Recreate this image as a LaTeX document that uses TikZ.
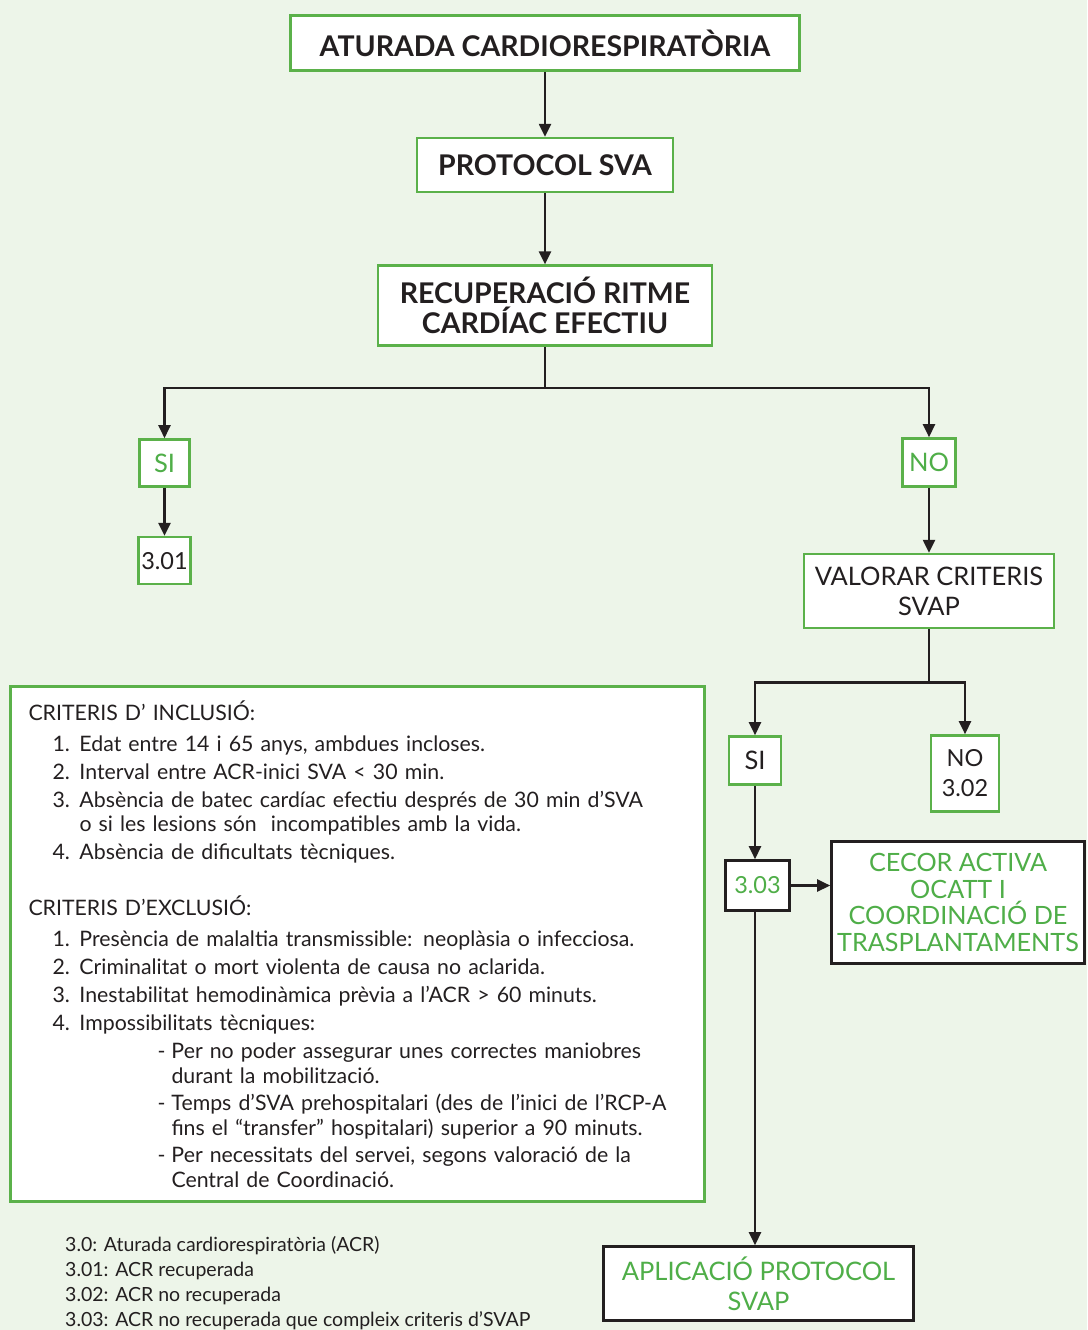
\documentclass[tikz,border=0pt]{standalone}
\usepackage{fontspec}
\setmainfont{Lato}
\usepackage{xcolor}
\usepackage{tikz}
\usetikzlibrary{arrows.meta,positioning}

\definecolor{bggreen}{HTML}{EDF5E9}
\definecolor{framegreen}{HTML}{5BB14A}
\definecolor{textgreen}{HTML}{4FAE48}
\definecolor{inkblack}{HTML}{231F20}

\begin{document}
\begin{tikzpicture}[
  x=1pt, y=1pt,
  >={Triangle[length=13pt,width=12pt]},
  box/.style={draw=framegreen, fill=white, line width=2.6pt, inner sep=0pt,
    align=center, text=inkblack},
  titlebox/.style={box, font=\fontsize{28.5}{30}\selectfont\bfseries},
  plainbox/.style={box, font=\fontsize{25.5}{30}\selectfont},
  numbox/.style={plainbox, font=\fontsize{23.5}{30}\selectfont},
  greenlbl/.style={plainbox, text=textgreen},
  outbox/.style={plainbox, draw=inkblack, text=textgreen},
  critbox/.style={box, align=left, inner xsep=18pt,
    font=\fontsize{21.3}{24.5}\selectfont},
  arr/.style={->, line width=2.4pt, draw=inkblack},
]
% Background
\fill[bggreen] (0,0) rectangle (1087,-1330);
\useasboundingbox (0,0) rectangle (1087,-1330);

% Main chain
\node[titlebox, minimum width=509pt, minimum height=55pt] (acr) at (545,-43) {ATURADA CARDIORESPIRATÒRIA};
\node[titlebox, minimum width=256pt, minimum height=54pt, below=65pt of acr] (sva) {PROTOCOL SVA};
\node[titlebox, minimum width=334pt, minimum height=80pt, below=71pt of sva] (rec) {RECUPERACIÓ RITME\\CARDÍAC EFECTIU};
\coordinate[below=41pt of rec] (fork1);

% Left branch
\node[greenlbl, minimum width=50pt, minimum height=47pt] (si1) at (164.5,-463) {SI};
\node[numbox, minimum width=52pt, minimum height=47pt, below=48pt of si1] (s301) {3.01};

% Right branch
\node[greenlbl, minimum width=53pt, minimum height=48pt] (no1) at (929,-462.5) {NO};
\node[plainbox, minimum width=250pt, minimum height=74pt, below=65pt of no1] (valorar) {VALORAR CRITERIS\\SVAP};
\coordinate[below=53pt of valorar] (fork2);
\node[plainbox, minimum width=52pt, minimum height=48pt] (si2) at (755,-760.5) {SI};
\node[numbox, minimum width=68pt, minimum height=76pt] (no2) at (965,-773.5) {NO\\3.02};
\node[outbox, numbox, draw=inkblack, text=textgreen, minimum width=64pt, minimum height=50pt] (s303) at (757.5,-885.5) {3.03};
\node[outbox, minimum width=253pt, minimum height=122pt,
  font=\fontsize{25.2}{26.5}\selectfont] (cecor) at (958,-902.5)
  {CECOR ACTIVA\\OCATT I\\COORDINACIÓ DE\\TRASPLANTAMENTS};
\node[outbox, minimum width=310pt, minimum height=74pt] (apl) at (758.5,-1283.5) {APLICACIÓ PROTOCOL\\SVAP};

% Criteria
\node[critbox, text width=658pt, minimum height=515pt] (crit) at (357.5,-944) {%
CRITERIS D’ INCLUSIÓ:\\[6.5pt]
\hspace*{24pt}\makebox[27pt][l]{1.}Edat entre 14 i 65 anys, ambdues incloses.\\[3.5pt]
\hspace*{24pt}\makebox[27pt][l]{2.}Interval entre ACR-inici SVA < 30 min.\\[3.5pt]
\hspace*{24pt}\makebox[27pt][l]{3.}Absència de batec cardíac efectiu després de 30 min d’SVA\\
\hspace*{51pt}o si les lesions són\ \ incompatibles amb la vida.\\[3.5pt]
\hspace*{24pt}\makebox[27pt][l]{4.}Absència de dificultats tècniques.\\[31.5pt]
CRITERIS D’EXCLUSIÓ:\\[6.5pt]
\hspace*{24pt}\makebox[27pt][l]{1.}Presència de malaltia transmissible: neoplàsia o infecciosa.\\[3.5pt]
\hspace*{24pt}\makebox[27pt][l]{2.}Criminalitat o mort violenta de causa no aclarida.\\[3.5pt]
\hspace*{24pt}\makebox[27pt][l]{3.}Inestabilitat hemodinàmica prèvia a l’ACR > 60 minuts.\\[3.5pt]
\hspace*{24pt}\makebox[27pt][l]{4.}Impossibilitats tècniques:\\[3.5pt]
\hspace*{129pt}\makebox[14pt][l]{-}Per no poder assegurar unes correctes maniobres\\
\hspace*{143pt}durant la mobilització.\\[3pt]
\hspace*{129pt}\makebox[14pt][l]{-}Temps d’SVA prehospitalari (des de l’inici de l’RCP-A\\
\hspace*{143pt}fins el “transfer” hospitalari) superior a 90 minuts.\\[3pt]
\hspace*{129pt}\makebox[14pt][l]{-}Per necessitats del servei, segons valoració de la\\
\hspace*{143pt}Central de Coordinació.};

% Legend
\node[anchor=north west, align=left, inner sep=0pt, text=inkblack,
  font=\fontsize{19.5}{25}\selectfont] (legend) at (65,-1236)
  {3.0: Aturada cardiorespiratòria (ACR)\\
   3.01: ACR recuperada\\
   3.02: ACR no recuperada\\
   3.03: ACR no recuperada que compleix criteris d’SVAP};

% Arrows
\draw[arr] (acr) -- (sva);
\draw[arr] (sva) -- (rec);
\draw[arr] (rec.south) -- (fork1) -| (si1.north);
\draw[arr] (fork1) -| (no1.north);
\draw[arr] (si1) -- (s301);
\draw[arr] (no1) -- (valorar);
\draw[arr] (valorar.south) -- (fork2) -| (si2.north);
\draw[arr] (fork2) -| (no2.north);
\draw[arr] (si2.south) -- (si2.south |- s303.north);
\draw[arr] (s303.east) -- (s303.east -| cecor.west);
\draw[arr] (si2.south |- s303.south) -- (si2.south |- apl.north);
\end{tikzpicture}
\end{document}
